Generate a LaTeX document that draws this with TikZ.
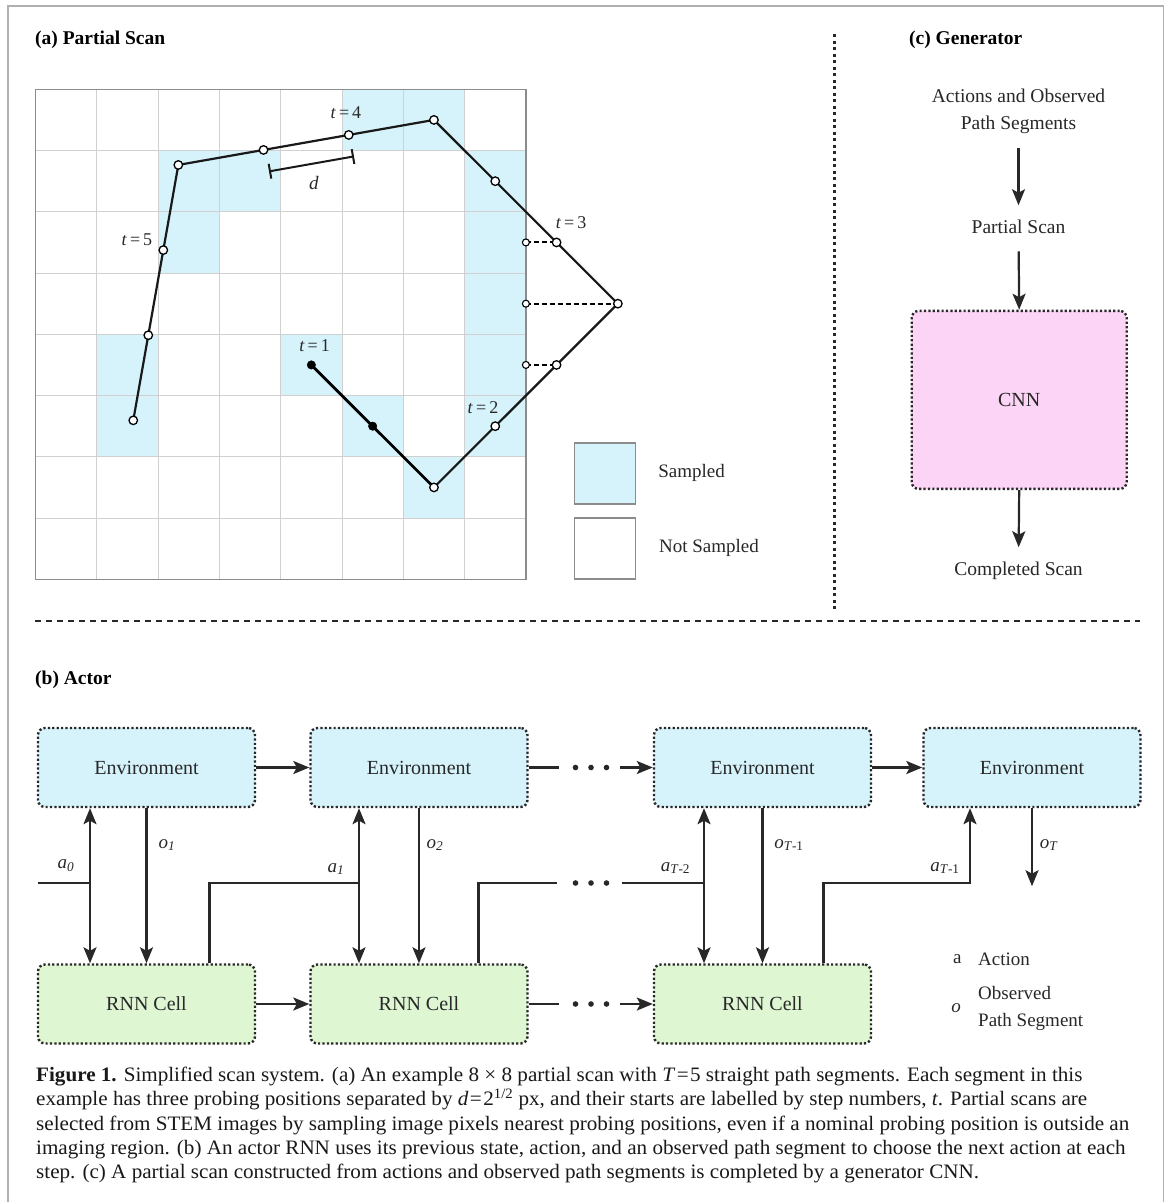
\documentclass[tikz,border=0pt]{standalone}
\usepackage{fontspec}
\setmainfont{Liberation Serif}
\newfontfamily\capfont{Liberation Serif}[FakeStretch=1.03]
\usetikzlibrary{arrows.meta,calc}

\definecolor{skyfill}{RGB}{214,243,252}
\definecolor{greenfill}{RGB}{222,246,210}
\definecolor{pinkfill}{RGB}{252,212,245}
\definecolor{gridgray}{RGB}{208,208,208}
\definecolor{inkgray}{RGB}{40,40,40}
\definecolor{framegray}{RGB}{175,175,175}
\definecolor{bordergray}{RGB}{140,140,140}

\tikzset{
  tipS/.tip={Stealth[length=16pt,width=13pt,inset=3.5pt]},
  arr/.style={-tipS, line width=2.2pt, draw=inkgray},
  dblarr/.style={tipS-tipS, line width=2.2pt, draw=inkgray},
  wire/.style={line width=2.2pt, draw=inkgray},
  blockbox/.style={rounded corners=7pt, draw=inkgray, line width=2.4pt, dash pattern=on 2.2pt off 2.2pt,
    minimum width=217pt, minimum height=79pt, inner sep=0pt, font=\fontsize{20}{24}\selectfont, text=inkgray},
  envbox/.style={blockbox, fill=skyfill},
  rnnbox/.style={blockbox, fill=greenfill},
  cnnbox/.style={blockbox, fill=pinkfill, minimum width=215pt, minimum height=178pt},
  titletext/.style={font=\fontsize{19.5}{23}\selectfont\bfseries, anchor=west, inner sep=0pt},
  plaintext/.style={font=\fontsize{19.5}{27}\selectfont, text=inkgray, inner sep=0pt},
  tlab/.style={font=\fontsize{18}{20}\selectfont, text=inkgray, inner sep=0pt},
  sublab/.style={font=\fontsize{19}{22}\selectfont, text=inkgray, inner sep=0pt},
  legtext/.style={font=\fontsize{19}{22}\selectfont, text=inkgray, inner sep=0pt},
  captext/.style={font=\capfont\fontsize{20.5}{24}\selectfont, text=black!90, inner sep=0pt, anchor=base west},
  probe/.style={circle, draw=black, fill=white, line width=1.3pt, inner sep=0pt, minimum size=8.5pt},
  probefill/.style={circle, draw=black, fill=black, inner sep=0pt, minimum size=8.5pt},
  edgeprobe/.style={circle, draw=black, fill=white, line width=1.1pt, inner sep=0pt, minimum size=7pt},
  legsq/.style={draw=bordergray, line width=1.5pt, minimum size=61pt, inner sep=0pt},
  dotgap/.style={fill=inkgray},
}

\begin{document}
\begin{tikzpicture}[x=1pt,y=-1pt]
\useasboundingbox (0,0) rectangle (1168,1202);
\fill[white] (0,0) rectangle (1168,1202);
\draw[framegray,line width=1.5pt] (8,1202) -- (8,6) -- (1163.5,6) -- (1163.5,1202);

% ---------- titles ----------
\node[titletext] (ttlA) at (35,40) {(a) Partial Scan};
\node[titletext] (ttlC) at (909,39.5) {(c) Generator};
\node[titletext] (ttlB) at (35,680) {(b) Actor};

% ---------- separators ----------
\draw[inkgray, line width=2.5pt, dash pattern=on 3pt off 3.5pt] (834.5,34) -- (834.5,612);
\draw[inkgray, line width=1.6pt, dash pattern=on 6pt off 5pt] (35,621) -- (1140,621);

% ---------- (a) partial scan grid ----------
\begin{scope}[shift={(35.5,89.3)},x=61.3pt,y=-61.25pt]
  \foreach \c/\r in {5/0,6/0,2/1,3/1,7/1,2/2,7/2,7/3,1/4,4/4,7/4,1/5,5/5,7/5,6/6}
    \fill[skyfill] (\c,\r) rectangle ++(1,1);
  \foreach \i in {1,...,7} {
    \draw[gridgray,line width=1pt] (\i,0) -- (\i,8);
    \draw[gridgray,line width=1pt] (0,\i) -- (8,\i);
  }
  \draw[bordergray,line width=1.5pt] (0,0) rectangle (8,8);

  \coordinate (p1) at (4.5,4.5);
  \coordinate (p2) at (5.5,5.5);
  \coordinate (p3) at (6.5,6.5);
  \coordinate (p4) at (7.5,5.5);
  \coordinate (p5) at (8.5,4.5);
  \coordinate (p6) at (9.5,3.5);
  \coordinate (p7) at (8.5,2.5);
  \coordinate (p8) at (7.5,1.5);
  \coordinate (p9) at (6.5,0.5);
  \coordinate (p10) at (5.11,0.745);
  \coordinate (p11) at (3.72,0.99);
  \coordinate (p12) at (2.33,1.235);
  \coordinate (p13) at (2.085,2.625);
  \coordinate (p14) at (1.84,4.015);
  \coordinate (p15) at (1.595,5.405);
  \coordinate (e1) at (8,2.5);
  \coordinate (e2) at (8,3.5);
  \coordinate (e3) at (8,4.5);

  \draw[black, line width=2pt, dash pattern=on 5pt off 3pt] (e1) -- (p7);
  \draw[black, line width=2pt, dash pattern=on 5pt off 3pt] (e2) -- (p6);
  \draw[black, line width=2pt, dash pattern=on 5pt off 3pt] (e3) -- (p5);

  \draw[black, line width=2.8pt, line cap=round] (p1) -- (p2) -- (p3);
  \draw[black!90, line width=2.2pt, line join=round]
    (p3) -- (p4) -- (p5) -- (p6) -- (p7) -- (p8) -- (p9) -- (p10) -- (p11) -- (p12)
    -- (p13) -- (p14) -- (p15);

  \node[edgeprobe] (ce1) at (e1) {};
  \node[edgeprobe] (ce2) at (e2) {};
  \node[edgeprobe] (ce3) at (e3) {};
  \node[probefill] (c1) at (p1) {};
  \node[probefill] (c2) at (p2) {};
  \foreach \k in {3,...,15} \node[probe] (c\k) at (p\k) {};
\end{scope}

% step labels
\node[tlab] (lt4) at (346,113) {\textit{t}\hspace{3pt}=\hspace{3pt}4};
\node[tlab] (lt5) at (137,240) {\textit{t}\hspace{3pt}=\hspace{3pt}5};
\node[tlab] (lt3) at (571,222.7) {\textit{t}\hspace{3pt}=\hspace{3pt}3};
\node[tlab] (lt1) at (314.6,345.7) {\textit{t}\hspace{3pt}=\hspace{3pt}1};
\node[tlab] (lt2) at (483,407.7) {\textit{t}\hspace{3pt}=\hspace{3pt}2};

% d bar
\coordinate (dbarA) at (269,171.4);
\coordinate (dbarB) at (354,156.4);
\draw[black!90, line width=2pt, {Bar[width=15pt,line width=2pt]}-{Bar[width=15pt,line width=2pt]}] (dbarA) -- (dbarB);
\node[font=\fontsize{19}{22}\selectfont\itshape, text=inkgray, inner sep=0pt] (dlab) at (313.8,182.7) {d};

% legend
\node[legsq,fill=skyfill] (sqS) at (605,473.5) {};
\node[legsq,fill=white] (sqN) at (605,548.7) {};
\node[legtext] (txS) at (691.5,472.5) {Sampled};
\node[legtext] (txN) at (709,547.6) {Not Sampled};

% ---------- (c) generator ----------
\node[plaintext, align=center] (gin) at (1018.5,111.3) {Actions and Observed\\Path Segments};
\node[plaintext] (gps) at (1018.5,226.8) {Partial Scan};
\node[cnnbox] (cnn) at (1019.2,399.9) {CNN};
\node[plaintext] (gout) at (1018.5,571.3) {Completed Scan};
\draw[arr, shorten <=14pt, shorten >=14.5pt] (gin.south) -- (gps.north);
\draw[arr, shorten <=17.5pt] (gps.south) -- (cnn.north);
\draw[arr, shorten >=15pt] (cnn.south) -- (gout.north);

% ---------- (b) actor ----------
\node[envbox] (env1) at (146.5,767.5) {Environment};
\node[envbox] (env2) at (419,767.5) {Environment};
\node[envbox] (env3) at (762.5,767.5) {Environment};
\node[envbox] (env4) at (1032,767.5) {Environment};
\node[rnnbox] (rnn1) at (146.5,1004) {RNN Cell};
\node[rnnbox] (rnn2) at (419,1004) {RNN Cell};
\node[rnnbox] (rnn3) at (762.5,1004) {RNN Cell};

% horizontal flow
\draw[arr] (env1.east) -- (env2.west);
\draw[arr] (env3.east) -- (env4.west);
\draw[arr] (rnn1.east) -- (rnn2.west);
\coordinate (eGapL) at ($(env2.east)+(30,0)$);
\coordinate (eGapR) at ($(env3.west)+(-33,0)$);
\coordinate (rGapL) at ($(rnn2.east)+(30,0)$);
\coordinate (rGapR) at ($(rnn3.west)+(-33,0)$);
\draw[wire] (env2.east) -- (eGapL);
\draw[arr] (eGapR) -- (env3.west);
\draw[wire] (rnn2.east) -- (rGapL);
\draw[arr] (rGapR) -- (rnn3.west);

% action lines
\coordinate (ax0) at ([xshift=-56.5pt]env1.south);
\coordinate (ax1) at ([xshift=-60pt]env2.south);
\coordinate (ax2) at ([xshift=-58.5pt]env3.south);
\coordinate (ax3) at ([xshift=-62pt]env4.south);
\coordinate (a0free) at (38,883);
\coordinate (tGapL) at (557,883);
\coordinate (tGapR) at (622,883);

\draw[dblarr] (ax0) -- (ax0 |- rnn1.north);
\draw[dblarr] (ax1) -- (ax1 |- rnn2.north);
\draw[dblarr] (ax2) -- (ax2 |- rnn3.north);
\draw[wire] (a0free) -- (a0free -| ax0);
\draw[wire] ([xshift=63pt]rnn1.north) |- (a0free -| ax1);
\draw[wire] ([xshift=59.5pt]rnn2.north) |- (tGapL);
\draw[wire] (tGapR) -- (tGapR -| ax2);
\draw[arr] ([xshift=61pt]rnn3.north) |- (a0free -| ax3) -- (ax3);

% observation lines
\draw[arr] (env1.south) -- (rnn1.north);
\draw[arr] (env2.south) -- (rnn2.north);
\draw[arr] (env3.south) -- (rnn3.north);
\coordinate (oTend) at ([yshift=-78pt]env4.south);
\draw[arr] (env4.south) -- (oTend);

% ellipsis dots
\foreach \yy in {767.5,883,1004}
  \foreach \xx in {575.5,591,606.5}
    \fill[dotgap] (\xx,\yy) circle (2.8pt);

% labels on lines
\node[sublab] (la0) at (66,866) {\textit{a}\textsubscript{\textit{0}}};
\node[sublab] (la1) at (336,869) {\textit{a}\textsubscript{\textit{1}}};
\node[sublab] (la2) at (675.5,868) {\textit{a}\textsubscript{\textit{T}-2}};
\node[sublab] (la3) at (945,868) {\textit{a}\textsubscript{\textit{T}-1}};
\node[sublab] (lo1) at (167,845) {\textit{o}\textsubscript{\textit{1}}};
\node[sublab] (lo2) at (435,845) {\textit{o}\textsubscript{\textit{2}}};
\node[sublab] (lo3) at (789,845) {\textit{o}\textsubscript{\textit{T}-1}};
\node[sublab] (lo4) at (1049,845) {\textit{o}\textsubscript{\textit{T}}};

% actor legend
\node[legtext] (kA) at (957.4,959) {a};
\node[legtext, anchor=west] (kAt) at (978,959) {Action};
\node[legtext] (kO) at (956,1008) {\textit{o}};
\node[legtext, anchor=west] (kOt1) at (978,993) {Observed};
\node[legtext, anchor=west] (kOt2) at (978,1021.7) {Path Segment};

% ---------- caption ----------
\node[captext] (cap1) at (36,1081.5) {\textbf{Figure 1.} Simplified scan system. (a) An example 8 × 8 partial scan with \textit{T}\hspace{1.5pt}=\hspace{1.5pt}5 straight path segments. Each segment in this};
\node[captext] (cap2) at (36,1105.75) {example has three probing positions separated by \textit{d}\hspace{1.5pt}=\hspace{1.5pt}2\textsuperscript{1/2} px, and their starts are labelled by step numbers, \textit{t}. Partial scans are};
\node[captext] (cap3) at (36,1130) {selected from STEM images by sampling image pixels nearest probing positions, even if a nominal probing position is outside an};
\node[captext] (cap4) at (36,1154.25) {imaging region. (b) An actor RNN uses its previous state, action, and an observed path segment to choose the next action at each};
\node[captext] (cap5) at (36,1178.5) {step. (c) A partial scan constructed from actions and observed path segments is completed by a generator CNN.};
\end{tikzpicture}
\end{document}
